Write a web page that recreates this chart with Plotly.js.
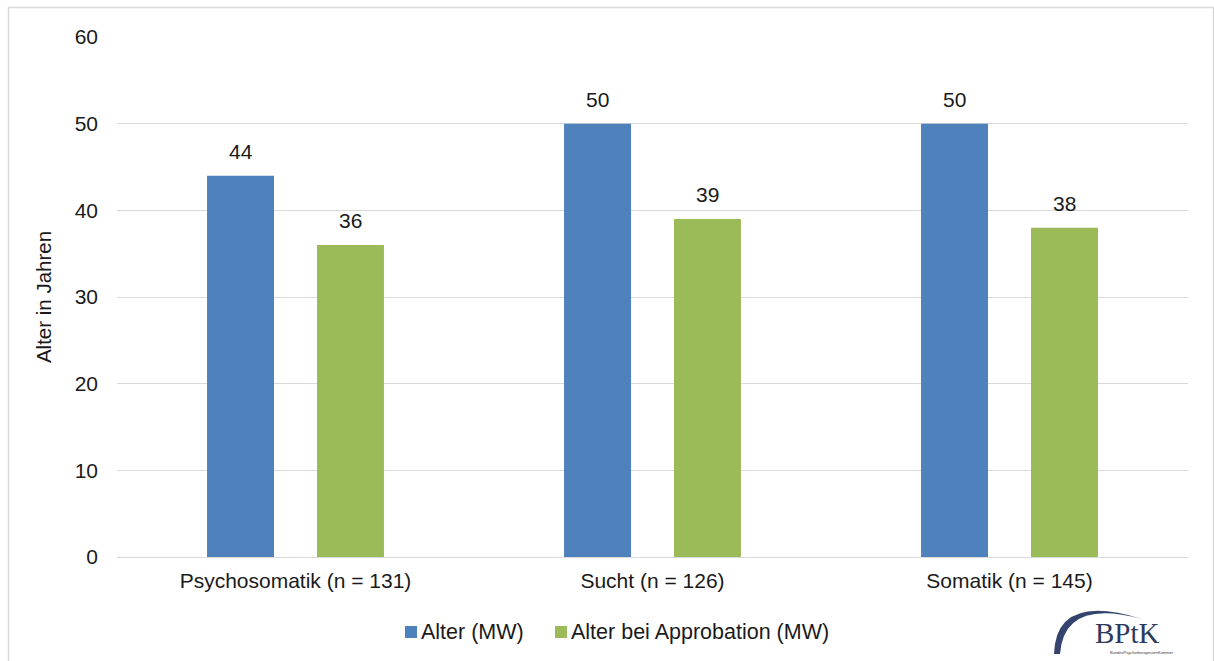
<!DOCTYPE html>
<html>
<head>
<meta charset="utf-8">
<script src="https://cdn.plot.ly/plotly-3.0.1.min.js"></script>
<style>
  html, body { margin: 0; padding: 0; background: #ffffff; }
  #chart { width: 1214px; height: 661px; }
</style>
</head>
<body>
<div id="chart"></div>
<script>
// Mean age of psychotherapists by clinic type
const categories = ['Psychosomatik (n = 131)', 'Sucht (n = 126)', 'Somatik (n = 145)'];
const seriesNames = ['Alter (MW)', 'Alter bei Approbation (MW)'];
const alterMW = [44, 50, 50];
const alterApprobationMW = [36, 39, 38];
const yTicks = [0, 10, 20, 30, 40, 50, 60];

const BLUE = '#4f81bd';
const GREEN = '#9bbb59';
const TEXT = '#1a1a1a';
const FONT = 'Liberation Sans, Arial, sans-serif';
const FS = 21;

const W = 1214, H = 661;
const M = { l: 117, r: 26, t: 37, b: 104 };
const plotW = W - M.l - M.r, plotH = H - M.t - M.b;
// pixel -> paper helpers for decoration (frame, legend, logo)
const px = x => (x - M.l) / plotW;
const py = y => (H - M.b - y) / plotH;

const BARGAP = 0.384;
const BARGROUPGAP = 0.391;
// centre offset of each bar inside its category (in category units)
const slot = (1 - BARGAP) / 2;
const offsets = [-slot / 2, slot / 2];
const colors = [BLUE, GREEN];
const seriesValues = [alterMW, alterApprobationMW];

const traces = seriesValues.map((vals, s) => ({
  type: 'bar', name: seriesNames[s], x: categories, y: vals,
  marker: { color: colors[s] }, hoverinfo: 'y', showlegend: false
}));

const annotations = [];
const shapes = [];

// value labels above the bars
seriesValues.forEach((vals, s) => {
  vals.forEach((v, i) => {
    annotations.push({
      x: i + offsets[s], y: v, xref: 'x', yref: 'y',
      text: String(v), showarrow: false,
      yanchor: 'bottom', yshift: 11,
      font: { family: FONT, size: FS, color: TEXT }
    });
  });
});

// legend: coloured square followed by the series name
const legendX = [405, 555];
seriesNames.forEach((name, s) => {
  shapes.push({
    type: 'rect', xref: 'paper', yref: 'paper',
    x0: px(legendX[s]), x1: px(legendX[s] + 12),
    y0: py(638), y1: py(626),
    fillcolor: colors[s], line: { width: 0 }
  });
  annotations.push({
    xref: 'paper', yref: 'paper', x: px(legendX[s] + 14), y: py(632),
    text: name, showarrow: false, xanchor: 'left', yanchor: 'middle',
    font: { family: FONT, size: 21.5, color: TEXT }
  });
});

// BPtK logo
annotations.push({
  xref: 'paper', yref: 'paper', x: px(1127), y: py(633),
  text: 'BPtK', showarrow: false, xanchor: 'center', yanchor: 'middle',
  font: { family: 'Liberation Serif, DejaVu Serif, serif', size: 29, color: '#2c3a5e' }
});
annotations.push({
  xref: 'paper', yref: 'paper', x: px(1142), y: py(652),
  text: 'BundesPsychotherapeutenKammer', showarrow: false,
  xanchor: 'center', yanchor: 'middle',
  font: { family: FONT, size: 4, color: '#3a3a3a' }
});
const arcPath =
  'M' + px(1054) + ',' + py(654) +
  ' Q' + px(1056) + ',' + py(592) + ' ' + px(1142) + ',' + py(619) +
  ' Q' + px(1064) + ',' + py(598) + ' ' + px(1060) + ',' + py(654) + ' Z';
shapes.push({ type: 'path', xref: 'paper', yref: 'paper', path: arcPath,
  fillcolor: '#34446e', line: { width: 0 } });

// outer chart frame
shapes.push({ type: 'rect', xref: 'paper', yref: 'paper', layer: 'below',
  x0: px(8.5), x1: px(1213.5), y0: py(700), y1: py(7.5),
  line: { color: '#d9d9d9', width: 1.5 }, fillcolor: 'rgba(0,0,0,0)' });

const layout = {
  width: W, height: H,
  margin: M,
  paper_bgcolor: '#ffffff', plot_bgcolor: '#ffffff',
  font: { family: FONT, size: FS, color: TEXT },
  barmode: 'group', bargap: BARGAP, bargroupgap: BARGROUPGAP,
  showlegend: false,
  xaxis: {
    type: 'category', showgrid: false, zeroline: false,
    showline: false, ticks: '', ticklabelstandoff: 9,
    tickfont: { family: FONT, size: FS, color: TEXT },
    fixedrange: true
  },
  yaxis: {
    range: [0, 60], tickvals: yTicks, ticktext: yTicks.map(String),
    showgrid: true, gridcolor: '#d9d9d9', gridwidth: 1,
    zeroline: true, zerolinecolor: '#d9d9d9', zerolinewidth: 1,
    showline: false, ticks: '', ticklabelstandoff: 18,
    tickfont: { family: FONT, size: FS, color: TEXT },
    title: { text: 'Alter in Jahren', standoff: 17,
             font: { family: FONT, size: 20.5, color: TEXT } },
    fixedrange: true
  },
  annotations: annotations,
  shapes: shapes
};

Plotly.newPlot('chart', traces, layout, { displayModeBar: false, staticPlot: true });
</script>
</body>
</html>
